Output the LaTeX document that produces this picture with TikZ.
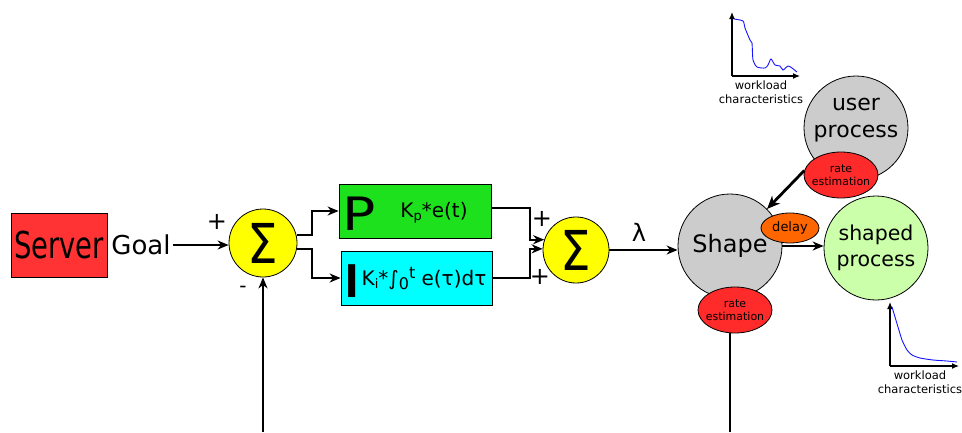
\documentclass[tikz,border=0pt]{standalone}
\usepackage{fontspec}
\setmainfont{DejaVu Sans}
\usetikzlibrary{arrows.meta,shapes.geometric}
\newcommand{\setfs}[2]{\fontsize{#1}{#2}\selectfont}

\definecolor{srvRed}{RGB}{255,51,51}
\definecolor{rateRed}{RGB}{255,42,42}
\definecolor{pGreen}{RGB}{30,225,30}
\definecolor{iCyan}{RGB}{0,255,255}
\definecolor{sumYellow}{RGB}{255,255,0}
\definecolor{procGray}{RGB}{204,204,204}
\definecolor{shapedGreen}{RGB}{204,255,170}
\definecolor{delayOrange}{RGB}{255,102,0}
\definecolor{curveBlue}{RGB}{20,20,255}

\begin{document}
\begin{tikzpicture}[x=1pt,y=-1pt,
  arr/.style={line width=1.9pt,-{Stealth[length=11pt,width=9pt,inset=3.5pt]}},
  thickarr/.style={line width=2.8pt,-{Stealth[length=13pt,width=11pt,inset=4pt]}},
  plain/.style={line width=1.9pt},
  axis/.style={line width=1.2pt,-{Latex[length=7pt,width=6pt]}},
  curve/.style={line width=0.9pt,curveBlue},
  sumnode/.style={circle,draw,line width=0.8pt,fill=sumYellow,inner sep=0},
  blockbox/.style={rectangle,draw,line width=0.8pt,minimum width=152pt,minimum height=54pt,inner sep=0},
  proc/.style={circle,draw,line width=0.8pt,minimum size=104pt,inner sep=0,align=center},
  rateest/.style={ellipse,draw,line width=0.8pt,fill=rateRed,minimum width=74pt,minimum height=46pt,inner sep=0,
    label={[font=\setfs{11}{12.5},align=center]center:rate\\estimation}},
  wl/.style={font=\setfs{11.5}{14},align=center,inner sep=0},
  sign/.style={font=\setfs{24}{24},inner sep=0},
]
\useasboundingbox (0,0) rectangle (962,432);

% reference input
\node[rectangle,draw,line width=0.8pt,fill=srvRed,minimum width=96pt,minimum height=64pt,inner sep=0] (server) at (59,245)
  {\scalebox{0.74}[1]{\setfs{37}{37}Server}};
\node[inner sep=2pt,font=\setfs{26}{26}] (goal) at (141,245) {Goal};

% first summing junction
\node[sumnode,minimum size=68pt] (sum1) at (263,243) {\scalebox{0.88}[1]{\setfs{55}{55}Σ}};
\node[sign] (plus1) at (217,222) {+};
\node[sign,font=\setfs{20}{20}] (minus1) at (243,289) {-};

% P and I blocks
\node[blockbox,fill=pGreen] (pbox) at (415,211) {};
\node[inner sep=0] (pletter) at (359,214) {\scalebox{1.2}[1]{\setfs{46}{46}P}};
\node[inner sep=0,font=\setfs{20}{20}] (pterm) at (434,213) {K\raisebox{-3pt}{\setfs{13}{13}p}*e(t)};

\node[blockbox,fill=iCyan,minimum width=151pt] (ibox) at (416.5,278) {};
\node[inner sep=0] (iletter) at (352.5,281.5) {\scalebox{1.6}[1]{\setfs{45}{45}I}};
\node[inner sep=0,font=\setfs{20}{20}] (iterm) at (424,279)
  {K\raisebox{-3pt}{\setfs{13}{13}i}*∫\raisebox{-4pt}{\setfs{16}{16}0}\raisebox{7pt}{\setfs{16}{16}t} e(τ)dτ};

% second summing junction
\node[sumnode,minimum size=66pt] (sum2) at (576,250) {\scalebox{0.88}[1]{\setfs{55}{55}Σ}};
\node[sign] (plus2) at (542,219) {+};
\node[sign] (plus3) at (540,277) {+};
\node[inner sep=0,font=\setfs{24}{24}] (lambda) at (639,232) {λ};

% shaper and processes
\node[proc,fill=procGray,font=\setfs{24}{24}] (shape) at (730,246) {Shape};
\node[ellipse,draw,line width=0.8pt,fill=delayOrange,minimum width=58pt,minimum height=30pt,inner sep=0,
  font=\setfs{13}{13}] (delay) at (790,228) {delay};
\node[rateest] (rate2) at (735,310) {};

\node[proc,fill=shapedGreen,font=\setfs{20.5}{26}] (shaped) at (876,248) {shaped\\process};

\node[proc,fill=procGray,font=\setfs{22}{27}] (user) at (856,128) {};
\node[inner sep=0,align=center,font=\setfs{22}{27}] (usertxt) at (856,120) {user\\process};
\node[rateest] (rate1) at (841,175) {};

% connectors
\draw[arr] (goal.east) -- (goal.east -| sum1.west);
\coordinate (fb1) at (263,432);
\draw[arr] (fb1) -- (sum1.south);
\draw[arr] ([yshift=8pt]sum1.east) -- ++(15,0) |- (pbox.west);
\draw[arr] ([yshift=-6pt]sum1.east) -- ++(15,0) |- (ibox.west);
\draw[arr] ([yshift=3pt]pbox.east) -- ++(39,0) |- (sum2.162);
\draw[arr] (ibox.east) -- ++(38,0) |- (sum2.178);
\draw[arr] (sum2.east) -- (sum2.east -| shape.west);
\draw[arr] (shape.east) -- (shape.east -| shaped.west);
\draw[thickarr] (rate1.173) -- (shape.45);
\coordinate (fb2) at (730,432);
\draw[plain] (fb2) -- (fb2 |- rate2.south);

% workload plot of the user process
\coordinate (g1o) at (732,76);
\draw[axis] (g1o) -- ++(0,-64);
\draw[axis] (g1o) -- ++(68,0);
\draw[curve] plot[smooth,tension=0.4] coordinates {(734,19) (743,21) (745,28) (750,40) (752,43) (753,60) (757,67) (765,68) (768,65) (771,59) (775,65) (780,66) (783,70) (788,66) (792,68) (797,72)};
\node[wl] (wl1) at (761,92) {workload\\characteristics};

% workload plot of the shaped process
\coordinate (g2o) at (890,366);
\draw[axis] (g2o) -- ++(0,-64);
\draw[axis] (g2o) -- ++(69,0);
\draw[curve] plot[smooth,tension=0.4] coordinates {(892,307) (895,317) (898,327) (902,340) (907,350) (912,355) (920,358) (933,360) (947,361) (957,362)};
\node[wl] (wl2) at (920,382) {workload\\characteristics};
\end{tikzpicture}
\end{document}
